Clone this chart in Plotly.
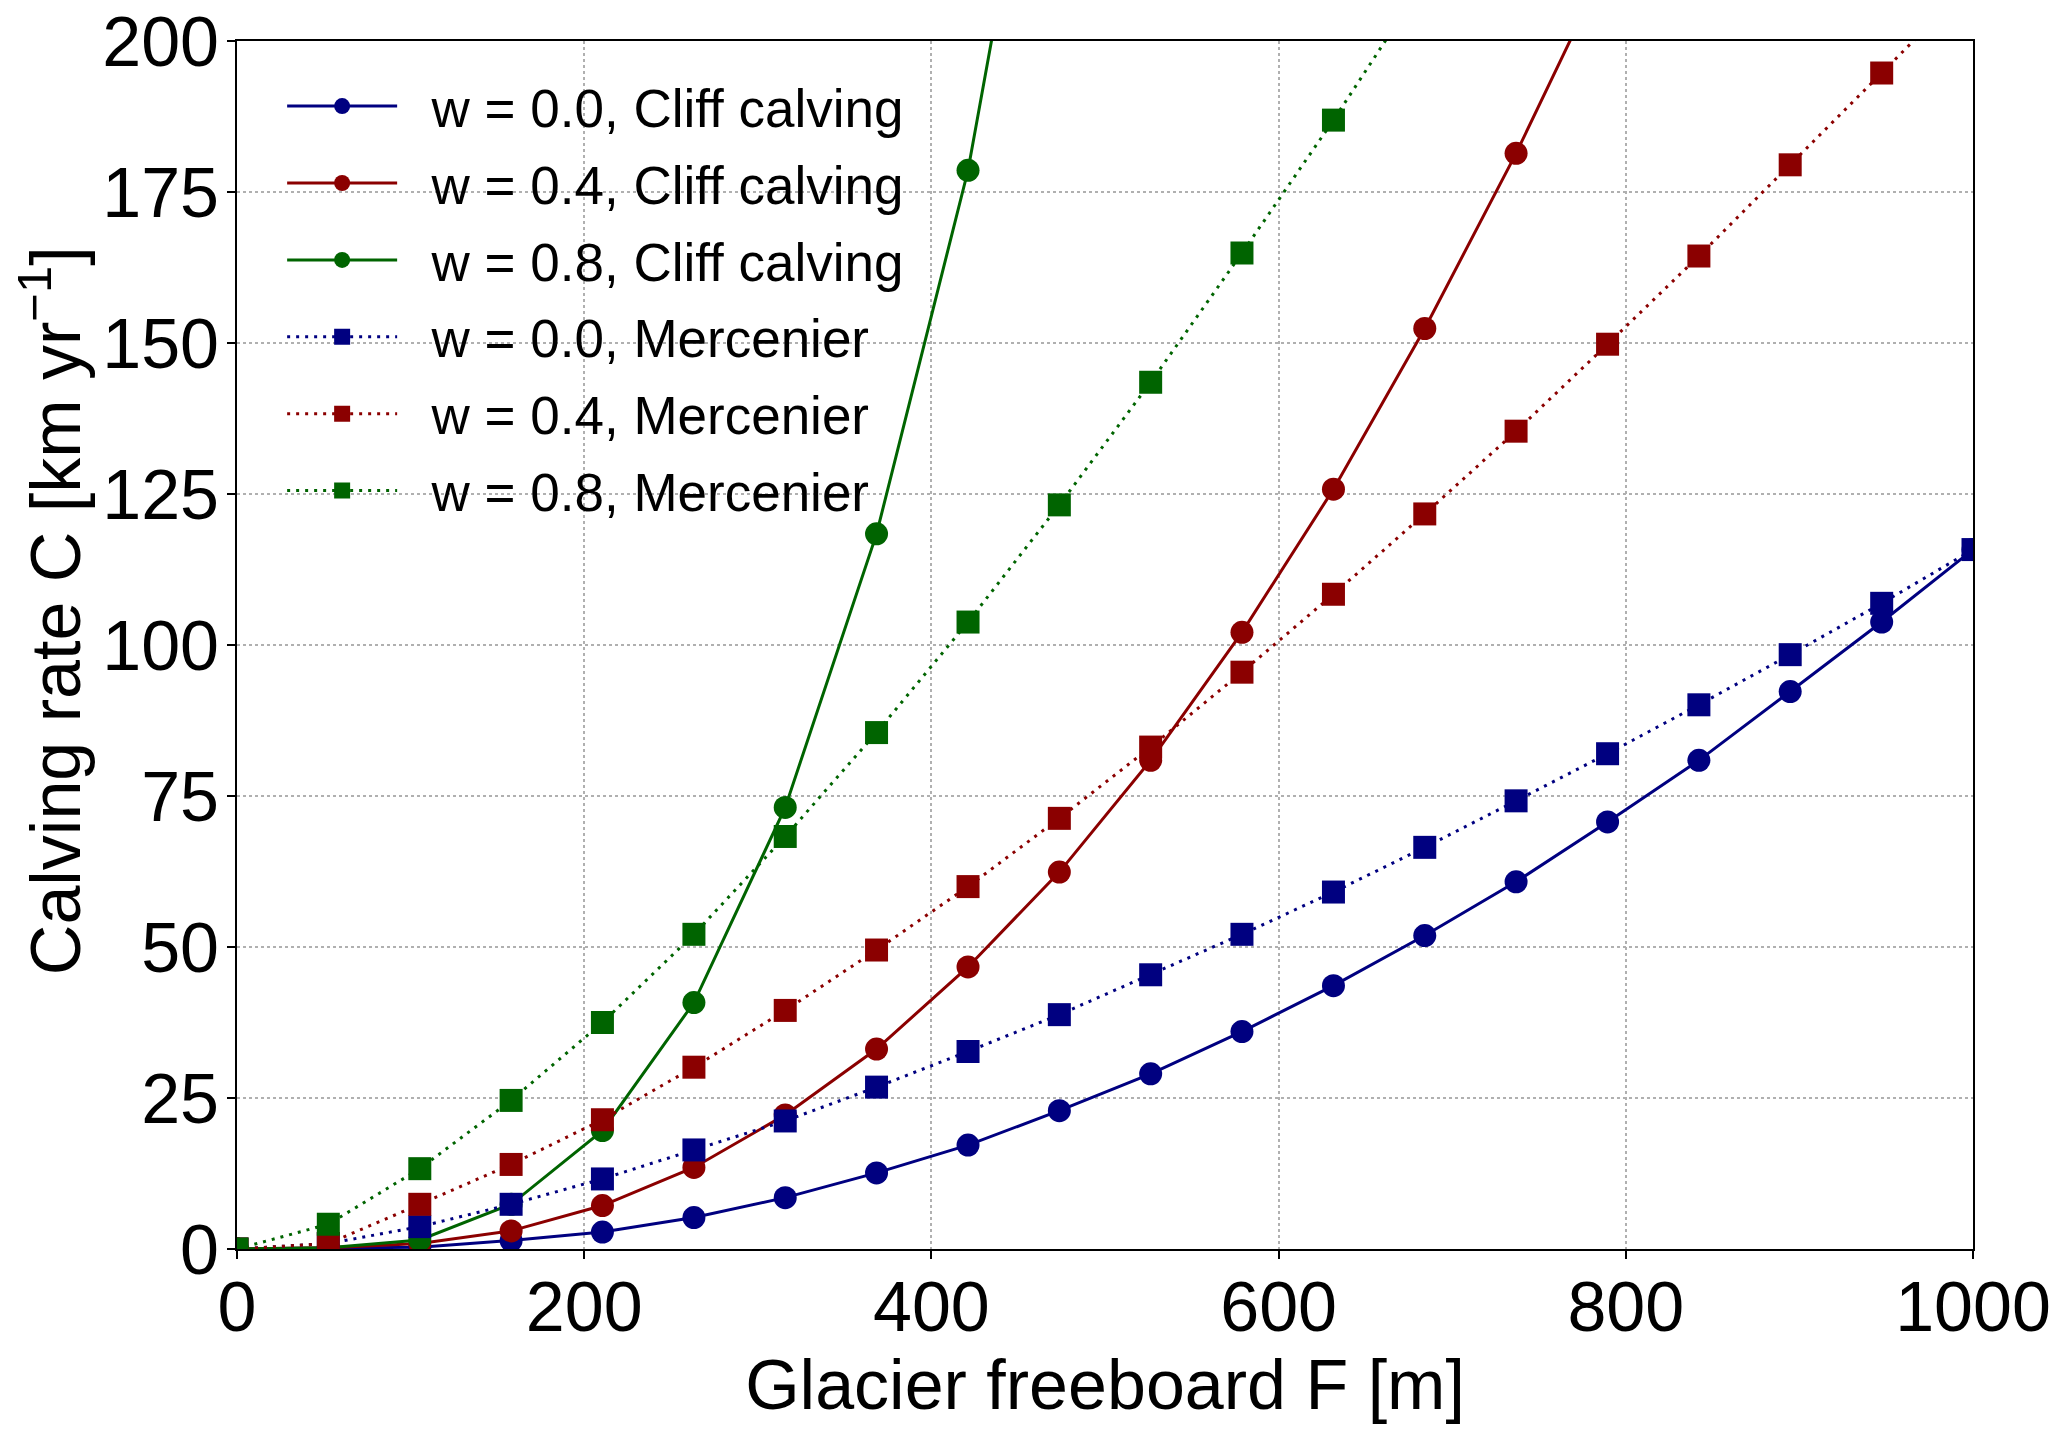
import plotly.graph_objects as go

# glacier freeboard F [m], 20 evenly spaced values
freeboard = [0.0, 52.6, 105.3, 157.9, 210.5, 263.2, 315.8, 368.4, 421.1, 473.7,
             526.3, 578.9, 631.6, 684.2, 736.8, 789.5, 842.1, 894.7, 947.4, 1000.0]

# calving rate C [km/yr]
cliff_w00 = [0, 0.1, 0.3, 1.4, 2.8, 5.2, 8.5, 12.6, 17.2, 22.9,
             29.0, 36.0, 43.6, 51.9, 60.8, 70.7, 80.9, 92.3, 103.8, 115.8]
cliff_w04 = [0, 0.2, 0.9, 3.0, 7.2, 13.5, 22.2, 33.1, 46.7, 62.4,
             80.9, 102.1, 125.8, 152.4, 181.4, 213.0]
cliff_w08 = [0, 0.2, 1.5, 7.4, 19.6, 40.8, 73.1, 118.4, 178.6, 262.0]

merc_w00 = [0, 0.9, 3.7, 7.4, 11.6, 16.4, 21.2, 26.8, 32.7, 38.8,
            45.4, 52.1, 59.1, 66.5, 74.2, 82.0, 90.1, 98.4, 106.9, 115.8]
merc_w04 = [0, 0.9, 7.4, 14.0, 21.4, 30.1, 39.5, 49.5, 60.0, 71.3,
            83.1, 95.5, 108.4, 121.7, 135.4, 149.8, 164.4, 179.5, 194.7, 210.0]
merc_w08 = [0, 4.1, 13.3, 24.6, 37.5, 52.1, 68.3, 85.5, 103.8, 123.2,
            143.5, 164.9, 186.9, 210.0]

navy = '#000080'
red = '#8b0000'
green = '#006400'

series = [
    ('w = 0.0, Cliff calving', cliff_w00, navy, 'solid', 'circle'),
    ('w = 0.4, Cliff calving', cliff_w04, red, 'solid', 'circle'),
    ('w = 0.8, Cliff calving', cliff_w08, green, 'solid', 'circle'),
    ('w = 0.0, Mercenier', merc_w00, navy, '3px,6px', 'square'),
    ('w = 0.4, Mercenier', merc_w04, red, '3px,6px', 'square'),
    ('w = 0.8, Mercenier', merc_w08, green, '3px,6px', 'square'),
]

data = []
for i, (name, vals, col, dash, sym) in enumerate(series):
    data.append(go.Scatter(x=freeboard[:len(vals)], y=vals,
                           name='\u00a0\u00a0' + name, legendgroup=str(i),
                           mode='lines+markers',
                           line=dict(color=col, width=3, dash=dash),
                           marker=dict(color=col, size=23, symbol=sym)))

font = 'Liberation Sans, Arial, sans-serif'
axis_common = dict(showline=True, linecolor='black', linewidth=2, mirror=True,
                   ticks='outside', ticklen=8, tickwidth=2, tickcolor='black',
                   showgrid=True, gridcolor='#b0b0b0', griddash='dot', gridwidth=1.5,
                   zeroline=False, automargin=False, ticklabeloverflow='allow',
                   tickfont=dict(size=70, color='black'))

layout = go.Layout(
    width=2051, height=1423,
    font=dict(family=font, color='black'),
    paper_bgcolor='white', plot_bgcolor='white',
    margin=dict(l=229, r=86, t=33, b=182),
    xaxis=dict(range=[0, 1000], dtick=200, ticklabelstandoff=-12,
               title=dict(text='Glacier freeboard F [m]', font=dict(size=70), standoff=10),
               **axis_common),
    yaxis=dict(range=[0, 200], dtick=25, ticklabelstandoff=-6, **axis_common),
    legend=dict(x=0.026, y=0.98, xanchor='left', yanchor='top',
                font=dict(size=53), bgcolor='rgba(255,255,255,0)',
                itemwidth=110, tracegroupgap=5),
    annotations=[dict(text='Calving rate C [km yr<sup>\u22121</sup>]',
                      textangle=-90, font=dict(size=70),
                      xref='paper', yref='paper', x=0, y=0.528,
                      xanchor='center', yanchor='middle', xshift=-186,
                      showarrow=False)],
    showlegend=True,
)

fig = go.Figure(data=data, layout=layout)
fig.write_html("out.html")
